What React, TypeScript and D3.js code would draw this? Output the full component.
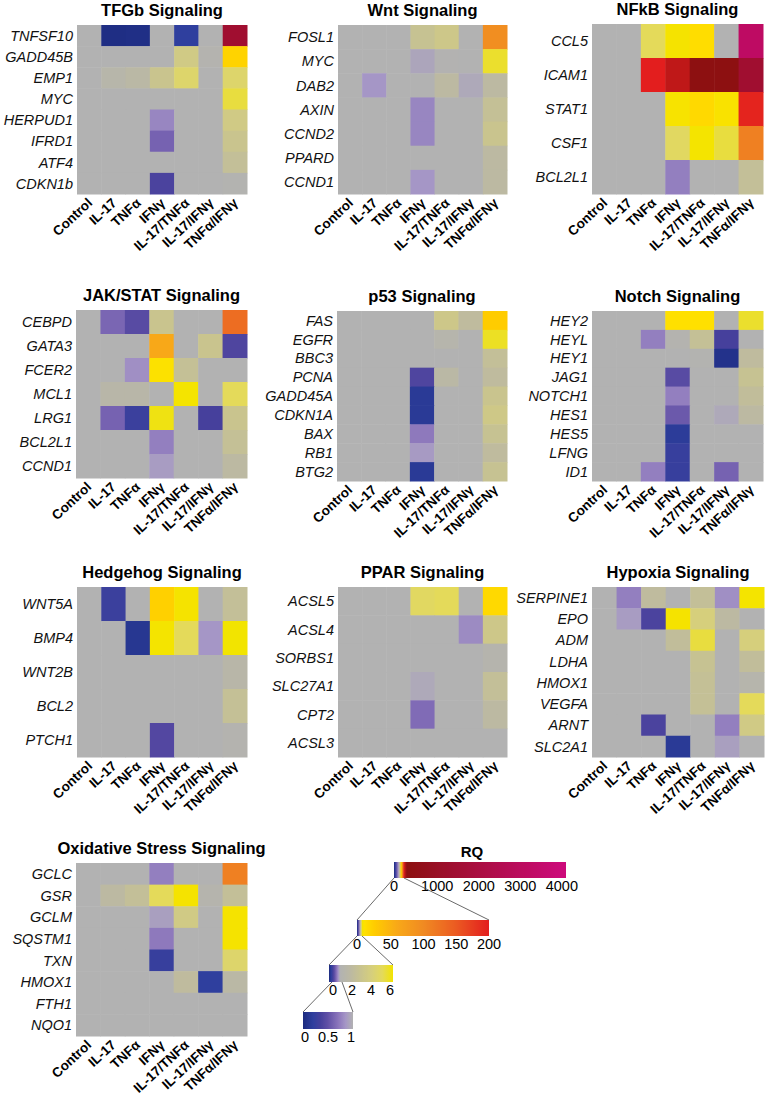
import React from 'react';
import * as d3 from 'd3';

const conditions = ['Control', 'IL-17', 'TNFα', 'IFNγ', 'IL-17/TNFα', 'IL-17/IFNγ', 'TNFα/IFNγ'];

const tgfbGenes = ['TNFSF10', 'GADD45B', 'EMP1', 'MYC', 'HERPUD1', 'IFRD1', 'ATF4', 'CDKN1b'];
const tgfbValues = [
  [1, 0.04, 0.05, 1, 0.2, 1, 1400],
  [1, 1, 1, 1, 3.5, 1.2, 20],
  [1, 1.5, 1.8, 3, 4.5, 1, 4.5],
  [1, 1, 1, 1, 1, 1, 5.3],
  [1, 1, 1, 0.78, 1, 1, 3.5],
  [1, 1, 1, 0.6, 1, 1, 3],
  [1, 1, 1, 1, 1, 1, 2.5],
  [1, 1, 1, 0.38, 1, 1, 1.1],
];

const wntGenes = ['FOSL1', 'MYC', 'DAB2', 'AXIN', 'CCND2', 'PPARD', 'CCND1'];
const wntValues = [
  [1, 1, 1, 2.8, 3.3, 1, 95],
  [1, 1, 1, 0.93, 1.05, 1, 5.5],
  [1, 0.85, 1, 1, 2, 0.95, 2],
  [1, 1, 1, 0.78, 1, 1, 2.6],
  [1, 1, 1, 0.78, 1, 1, 3],
  [1, 1, 1, 1, 1, 1, 2],
  [1, 1, 1, 0.85, 1, 1, 2],
];

const nfkbGenes = ['CCL5', 'ICAM1', 'STAT1', 'CSF1', 'BCL2L1'];
const nfkbValues = [
  [1, 1, 5, 7, 12, 1, 3200],
  [1, 1, 200, 225, 300, 300, 1400],
  [1, 1, 1, 7.5, 15, 8, 195],
  [1, 1, 1, 4.8, 6.5, 5.3, 110],
  [1, 1, 1, 0.75, 1, 1, 2.5],
];

const jakGenes = ['CEBPD', 'GATA3', 'FCER2', 'MCL1', 'LRG1', 'BCL2L1', 'CCND1'];
const jakValues = [
  [1, 0.62, 0.45, 3, 1, 1, 130],
  [1, 1, 1, 60, 1, 3, 0.4],
  [1, 1, 0.82, 9, 2.6, 1, 1],
  [1, 1.6, 1.6, 1, 6.5, 1, 5],
  [1, 0.6, 0.28, 5.8, 1, 0.35, 3],
  [1, 1, 1, 0.75, 1, 1, 2.6],
  [1, 1, 1, 0.88, 1, 1, 2],
];

const p53Genes = ['FAS', 'EGFR', 'BBC3', 'PCNA', 'GADD45A', 'CDKN1A', 'BAX', 'RB1', 'BTG2'];
const p53Values = [
  [1, 1, 1, 1, 3.3, 2.2, 25],
  [1, 1, 1, 1, 1.4, 1, 5.6],
  [1, 1, 1, 1, 1, 1, 2.5],
  [1, 1, 1, 0.4, 1.8, 1, 2.2],
  [1, 1, 1, 0.15, 1, 1, 3],
  [1, 1, 1, 0.15, 1, 1, 3.4],
  [1, 1, 1, 0.72, 1, 1, 2.8],
  [1, 1, 1, 0.87, 1, 1, 2.2],
  [1, 1, 1, 0.15, 1, 1, 2.8],
];

const notchGenes = ['HEY2', 'HEYL', 'HEY1', 'JAG1', 'NOTCH1', 'HES1', 'HES5', 'LFNG', 'ID1'];
const notchValues = [
  [1, 1, 1, 10, 10, 1, 5.5],
  [1, 1, 0.75, 1.2, 2.6, 0.35, 1],
  [1, 1, 1, 1, 1.1, 0.08, 2.2],
  [1, 1, 1, 0.45, 1, 1, 2.8],
  [1, 1, 1, 0.75, 1, 1, 2.4],
  [1, 1, 1, 0.55, 1, 0.95, 2],
  [1, 1, 1, 0.17, 1, 1, 1],
  [1, 1, 1, 0.25, 1, 1, 1],
  [1, 1, 0.75, 0.25, 1, 0.6, 1],
];

const hedgehogGenes = ['WNT5A', 'BMP4', 'WNT2B', 'BCL2', 'PTCH1'];
const hedgehogValues = [
  [1, 0.28, 1, 22, 7, 1, 2.5],
  [1, 1, 0.12, 6.5, 5, 0.85, 6],
  [1, 1, 1, 1, 1, 1, 1.6],
  [1, 1, 1, 1, 1, 1, 2.6],
  [1, 1, 1, 0.42, 1, 1, 1.2],
];

const pparGenes = ['ACSL5', 'ACSL4', 'SORBS1', 'SLC27A1', 'CPT2', 'ACSL3'];
const pparValues = [
  [1, 1, 1, 4.8, 5, 1, 15],
  [1, 1, 1, 1, 1, 0.8, 3.3],
  [1, 1, 1, 1, 1, 1, 1.3],
  [1, 1, 1, 0.95, 1, 1, 2.5],
  [1, 1, 1, 0.65, 1, 1, 2],
  [1, 1, 1, 1, 1, 1, 1],
];

const hypoxiaGenes = ['SERPINE1', 'EPO', 'ADM', 'LDHA', 'HMOX1', 'VEGFA', 'ARNT', 'SLC2A1'];
const hypoxiaValues = [
  [1, 0.75, 2.2, 1, 2.5, 0.82, 6.5],
  [1, 0.88, 0.38, 6.8, 4, 2, 1],
  [1, 1, 1, 2.4, 5.3, 1, 4],
  [1, 1, 1, 1, 2.8, 1, 2.4],
  [1, 1, 1, 1, 2.6, 1, 1.4],
  [1, 1, 1, 1, 2.6, 1, 5],
  [1, 1, 0.38, 1, 1, 0.75, 3.5],
  [1, 1, 1, 0.15, 1, 0.9, 1],
];

const oxidativeGenes = ['GCLC', 'GSR', 'GCLM', 'SQSTM1', 'TXN', 'HMOX1', 'FTH1', 'NQO1'];
const oxidativeValues = [
  [1, 1, 1, 0.75, 1, 1, 110],
  [1, 2, 2.5, 5, 6.8, 1.3, 2.5],
  [1, 1, 1, 0.9, 3.5, 1, 6.8],
  [1, 1, 1, 0.72, 1, 1, 6.8],
  [1, 1, 1, 0.25, 1, 1, 4.5],
  [1, 1, 1, 1, 2.2, 0.2, 1.8],
  [1, 1, 1, 1, 1, 1, 1],
  [1, 1, 1, 1, 1, 1, 1],
];

const panelTitles = [
  'TFGb Signaling', 'Wnt Signaling', 'NFkB Signaling',
  'JAK/STAT Signaling', 'p53 Signaling', 'Notch Signaling',
  'Hedgehog Signaling', 'PPAR Signaling', 'Hypoxia Signaling',
  'Oxidative Stress Signaling',
];
const panelGenes = [tgfbGenes, wntGenes, nfkbGenes, jakGenes, p53Genes, notchGenes, hedgehogGenes, pparGenes, hypoxiaGenes, oxidativeGenes];
const panelValues = [tgfbValues, wntValues, nfkbValues, jakValues, p53Values, notchValues, hedgehogValues, pparValues, hypoxiaValues, oxidativeValues];

// layout (positions only)
const layout = [
  { x0: 77, x1: 247, y0: 25, y1: 194 },
  { x0: 338, x1: 507, y0: 25, y1: 194 },
  { x0: 592, x1: 763, y0: 24, y1: 194 },
  { x0: 76, x1: 247, y0: 310, y1: 478 },
  { x0: 337, x1: 507, y0: 311, y1: 481 },
  { x0: 592, x1: 763, y0: 311, y1: 481 },
  { x0: 77, x1: 247, y0: 587, y1: 757 },
  { x0: 338, x1: 507, y0: 587, y1: 757 },
  { x0: 592, x1: 764, y0: 587, y1: 757 },
  { x0: 76, x1: 247, y0: 863, y1: 1036 },
];

// Color scale for RQ
const colorStopsDomain = [0, 0.2, 0.35, 0.5, 0.7, 0.85, 1, 2, 3, 4, 5, 6, 10, 25, 60, 100, 150, 200, 260, 4000];
const colorStopsRange = [
  '#1b2a7e', '#2f3f9e', '#46409c', '#6150a6', '#8a74bb', '#a596c6', '#b2b2b2',
  '#bcb9a2', '#c9c48e', '#d6cf7c', '#e4da5a', '#f2e400',
  '#ffe000', '#ffcc00', '#f8a818', '#f08a22', '#eb5a22', '#e31e1e',
  '#8c1010', '#cc0a7a',
];
const color = d3.scaleLinear<string>()
  .domain(colorStopsDomain)
  .range(colorStopsRange)
  .interpolate(d3.interpolateRgb)
  .clamp(true);

const FONT = '"Liberation Sans", Arial, Helvetica, sans-serif';

function Panel({ idx }: { idx: number }) {
  const L = layout[idx];
  const genes = panelGenes[idx];
  const values = panelValues[idx];
  const x = d3.scaleBand<string>().domain(conditions).range([L.x0, L.x1]);
  const y = d3.scaleBand<string>().domain(genes).range([L.y0, L.y1]);
  return (
    <g>
      <text x={(L.x0 + L.x1) / 2} y={L.y0 - 9} textAnchor="middle" fontFamily={FONT} fontWeight="bold" fontSize={16.5} fill="#000">
        {panelTitles[idx]}
      </text>
      {genes.map((g, r) =>
        conditions.map((c, ci) => (
          <rect key={g + c} x={x(c)} y={y(g)} width={x.bandwidth() + 0.5} height={y.bandwidth() + 0.5} fill={color(values[r][ci])} />
        ))
      )}
      {genes.map((g) => (
        <text key={g} x={L.x0 - 4} y={(y(g) as number) + y.bandwidth() / 2} dy="0.36em" textAnchor="end" fontFamily={FONT} fontStyle="italic" fontSize={14.5} fill="#111">
          {g}
        </text>
      ))}
      {conditions.map((c) => {
        const cx = (x(c) as number) + x.bandwidth() / 2 + 4;
        const cy = L.y1 + 10;
        return (
          <text key={c} transform={`translate(${cx},${cy}) rotate(-43)`} textAnchor="end" fontFamily={FONT} fontWeight="bold" fontSize={13.5} fill="#000">
            {c}
          </text>
        );
      })}
    </g>
  );
}

// Legend bars
const bar1Domain = [0, 1, 6, 200, 4100];
const bar1Range = [394, 399, 401, 404, 566];
const bar1Ticks = [0, 1000, 2000, 3000, 4000];
const bar2Domain = [0, 1, 6, 200];
const bar2Range = [357, 360, 362, 489];
const bar2Ticks = [0, 50, 100, 150, 200];
const bar3Domain = [0, 1, 6];
const bar3Range = [329, 340, 393];
const bar3Ticks = [0, 2, 4, 6];
const bar4Domain = [0, 1];
const bar4Range = [303, 353];
const bar4Ticks = [0, 0.5, 1];

const bars = [
  { id: 'b1', domain: bar1Domain, range: bar1Range, ticks: bar1Ticks, y: 862, h: 16, tickScale: null as null | number[] },
  { id: 'b2', domain: bar2Domain, range: bar2Range, ticks: bar2Ticks, y: 920, h: 16, tickScale: null },
  { id: 'b3', domain: bar3Domain, range: bar3Range, ticks: bar3Ticks, y: 965, h: 17, tickScale: [333, 390] },
  { id: 'b4', domain: bar4Domain, range: bar4Range, ticks: bar4Ticks, y: 1012, h: 17, tickScale: [305, 351] },
];

function Legend() {
  const scales = bars.map((b) => d3.scaleLinear().domain(b.domain).range(b.range));
  const lines: [number, number, number, number][] = [];
  const s1 = scales[0], s2 = scales[1], s3 = scales[2];
  lines.push([s1(0), bars[0].y + bars[0].h, bar2Range[0], bars[1].y]);
  lines.push([s1(200), bars[0].y + bars[0].h, bar2Range[bar2Range.length - 1], bars[1].y]);
  lines.push([s2(0), bars[1].y + bars[1].h, bar3Range[0], bars[2].y]);
  lines.push([s2(6), bars[1].y + bars[1].h, bar3Range[bar3Range.length - 1], bars[2].y]);
  lines.push([s3(0) + 3, bars[2].y + bars[2].h, bar4Range[0], bars[3].y]);
  lines.push([s3(1) + 2, bars[2].y + bars[2].h, bar4Range[1], bars[3].y]);
  return (
    <g>
      <defs>
        {bars.map((b, i) => {
          const sc = scales[i];
          const x0 = b.range[0], x1 = b.range[b.range.length - 1];
          const n = 120;
          const stops = d3.range(n + 1).map((k) => {
            const px = x0 + ((x1 - x0) * k) / n;
            return { off: k / n, col: color(sc.invert(px)) };
          });
          return (
            <linearGradient key={b.id} id={b.id} x1="0" x2="1" y1="0" y2="0">
              {stops.map((s, k) => (
                <stop key={k} offset={s.off} stopColor={s.col} />
              ))}
            </linearGradient>
          );
        })}
      </defs>
      <text x={472} y={857} textAnchor="middle" fontFamily={FONT} fontWeight="bold" fontSize={15}>RQ</text>
      {bars.map((b, i) => {
        const x0 = b.range[0], x1 = b.range[b.range.length - 1];
        const tsc = b.tickScale ? d3.scaleLinear().domain([b.domain[0], b.domain[b.domain.length - 1]]).range(b.tickScale) : scales[i];
        return (
          <g key={b.id}>
            <rect x={x0} y={b.y} width={x1 - x0} height={b.h} fill={`url(#${b.id})`} />
            {b.ticks.map((t) => (
              <text key={t} x={tsc(t)} y={b.y + b.h + 13} textAnchor="middle" fontFamily={FONT} fontSize={14.5} fill="#000">
                {t}
              </text>
            ))}
          </g>
        );
      })}
      {lines.map((l, k) => (
        <line key={k} x1={l[0]} y1={l[1]} x2={l[2]} y2={l[3]} stroke="#444" strokeWidth={0.8} />
      ))}
    </g>
  );
}

export default function App() {
  return (
    <svg width={765} height={1096} style={{ position: 'absolute', left: 0, top: 0, background: '#fff' }}>
      <rect x={0} y={0} width={765} height={1096} fill="#fff" />
      {panelTitles.map((_, i) => (
        <Panel key={i} idx={i} />
      ))}
      <Legend />
    </svg>
  );
}
